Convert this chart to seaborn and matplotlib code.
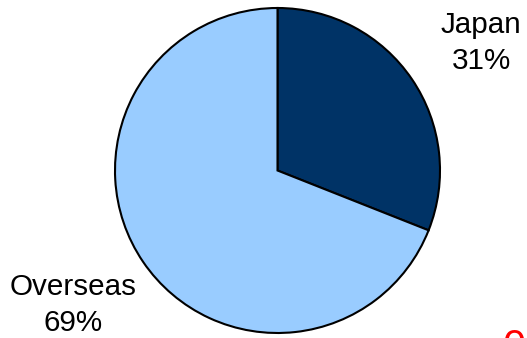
import matplotlib
matplotlib.use("Agg")
import matplotlib.pyplot as plt
import seaborn as sns

regions = ["Japan", "Overseas"]
shares = [31, 69]
colors = ["#003366", "#99CCFF"]

sns.set_theme(style="white")
plt.rcParams["font.family"] = ["Liberation Sans", "DejaVu Sans"]

W, H = 527, 338
fig = plt.figure(figsize=(W / 100, H / 100), dpi=100)
ax = fig.add_axes([0, 0, 1, 1])

ax.pie(shares, colors=colors, startangle=90, counterclock=False,
       center=(277.5, H - 170.5), radius=162.5,
       wedgeprops=dict(edgecolor="black", linewidth=1.5), frame=True)
ax.set_xlim(0, W)
ax.set_ylim(0, H)
ax.set_aspect("equal")
ax.axis("off")

fs = 21.3
ax.text(481, H - 43, f"{regions[0]}\n{shares[0]}%", ha="center", va="center",
        fontsize=fs, color="black", linespacing=1.32)
ax.text(73, H - 305, f"{regions[1]}\n{shares[1]}%", ha="center", va="center",
        fontsize=fs, color="black", linespacing=1.32)

# page marker in the corner
ax.text(514, H - 359, "0", ha="center", va="baseline", fontsize=30,
        color="red", clip_on=False)

fig.savefig("out.png", dpi=100)
